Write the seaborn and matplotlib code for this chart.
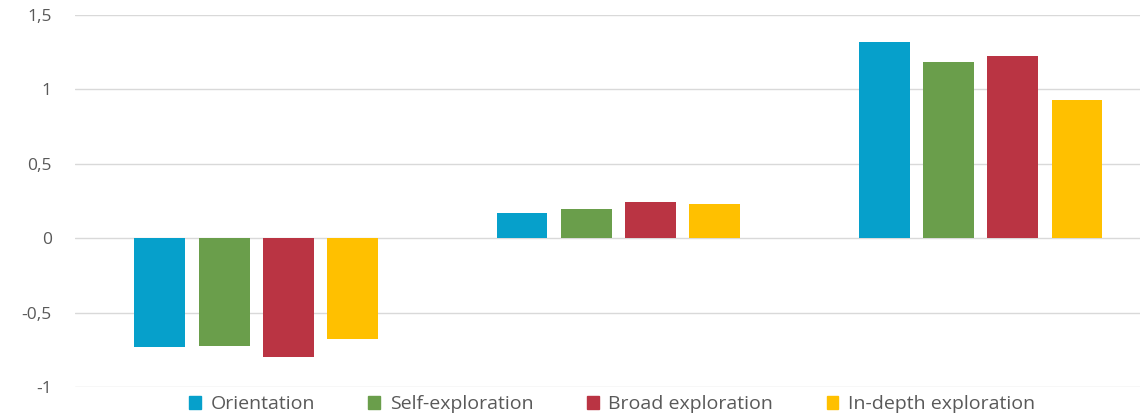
import numpy as np
import pandas as pd
import seaborn as sns
import matplotlib.pyplot as plt
from matplotlib.patches import Patch

groups = ["Low", "Medium", "High"]
series = ["Orientation", "Self-exploration", "Broad exploration", "In-depth exploration"]
orientation = [-0.734, 0.168, 1.318]
self_exploration = [-0.722, 0.195, 1.183]
broad_exploration = [-0.800, 0.242, 1.225]
in_depth_exploration = [-0.675, 0.229, 0.929]
ytick_values = [-1, -0.5, 0, 0.5, 1, 1.5]
ytick_labels = ["-1", "-0,5", "0", "0,5", "1", "1,5"]
colors = ["#06A0CB", "#6A9E4B", "#BA3443", "#FFC000"]

df = pd.DataFrame({
    "group": groups * 4,
    "series": np.repeat(series, 3),
    "value": orientation + self_exploration + broad_exploration + in_depth_exploration,
})

sns.set_style("white")
plt.rcParams['font.family'] = ['Open Sans', 'DejaVu Sans']

fig = plt.figure(figsize=(11.4, 4.17), dpi=100)
ax = fig.add_axes([0.066, 0.072, 0.953, 0.892])
sns.barplot(data=df, x="group", y="value", hue="series", palette=colors,
            saturation=1, linewidth=0, width=0.71, gap=0.21, ax=ax,
            legend=False, zorder=3)

ax.set_ylim(-1, 1.5)
ax.set_yticks(ytick_values)
ax.set_yticklabels(ytick_labels, color="#595959", fontsize=12.5)
ax.set_xticks([])
ax.set_xlabel("")
ax.set_ylabel("")
ax.grid(axis="y", color="#d9d9d9", linewidth=1, zorder=0)
for s in ax.spines.values():
    s.set_visible(False)
ax.tick_params(axis="y", length=0, pad=17)

handles = [Patch(color=c, label=l) for c, l in zip(colors, series)]
fig.legend(handles=handles, loc="center", bbox_to_anchor=(0.537, 0.03), ncol=4,
           frameon=False, fontsize=14, handlelength=0.6, handleheight=0.6,
           handletextpad=0.5, columnspacing=2.75, labelcolor="#595959")

fig.savefig("out.png", dpi=100)
